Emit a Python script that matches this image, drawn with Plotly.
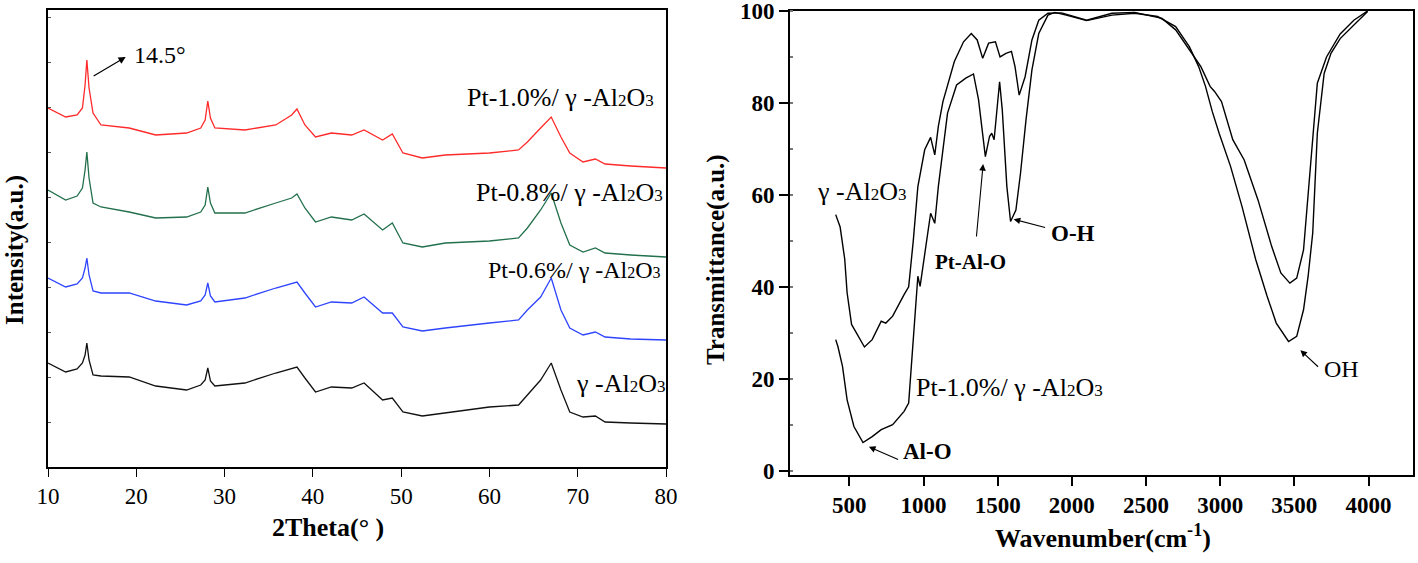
import plotly.graph_objects as go

# ---------------- XRD data (left panel) ----------------
theta = [10, 12, 13.3, 13.9, 14.2, 14.4, 14.65, 15.1, 16, 19.2, 22.2, 25.7, 27.3, 27.8, 28.1, 28.4,
         28.9, 32.3, 35.8, 37.6, 38.2, 39.1, 40.3, 42.1, 44.4, 45.8, 47.9, 49.0, 50.2, 52.4, 55,
         60, 63.3, 64.3, 65.8, 67.0, 68.1, 69.1, 70.6, 72.0, 73.1, 76, 80]
xrd_pt10 = [359, 350, 352, 359, 382, 407, 379, 354, 342, 339, 332, 334, 339, 347, 366, 349,
            339, 337, 342, 352, 358, 342, 330, 334, 332, 337, 327, 333, 314, 309, 312,
            314, 317, 325, 339, 350, 330, 314, 305, 308, 303, 301, 299]
xrd_pt08 = [277, 267, 271, 279, 297, 315, 289, 264, 260, 255, 249, 250, 255, 262, 280, 264,
            254, 254, 264, 269, 273, 259, 245, 250, 247, 253, 237, 244, 224, 220, 224,
            226, 229, 239, 257, 274, 244, 222, 215, 219, 214, 212, 210]
xrd_pt06 = [189, 180, 183, 189, 199, 209, 192, 176, 174, 174, 166, 162, 166, 172, 184, 171,
            165, 169, 179, 183, 185, 174, 160, 165, 164, 170, 154, 154, 140, 136, 139,
            144, 147, 157, 170, 189, 157, 139, 132, 135, 130, 128, 127]
xrd_al2o3 = [104, 95, 98, 104, 112, 124, 107, 92, 91, 90, 81, 77, 82, 87, 99, 86,
             81, 84, 94, 98, 100, 89, 75, 80, 79, 84, 67, 69, 55, 51, 54,
             60, 62, 72, 87, 104, 77, 55, 50, 51, 45, 44, 43]
xrd_names = ["Pt-1.0%/ γ -Al2O3", "Pt-0.8%/ γ -Al2O3", "Pt-0.6%/ γ -Al2O3", "γ -Al2O3"]
xrd_colors = ["#ff2a2a", "#22704c", "#2e44ff", "#111111"]

# ---------------- FTIR data (right panel) ----------------
wn_gamma = [408, 438, 469, 485, 515, 602, 654, 715, 746, 792, 869, 900, 931, 962, 1008, 1048,
            1076, 1100, 1131, 1208, 1270, 1322, 1362, 1399, 1439, 1485, 1516, 1556, 1593,
            1617, 1645, 1685, 1731, 1777, 1839, 1931, 2100, 2270, 2424, 2608, 2700, 2793,
            2870, 2932, 2962, 3009, 3085, 3162, 3255, 3347, 3409, 3470, 3516, 3562, 3609,
            3655, 3717, 3809, 3901, 3994]
t_gamma = [55.7, 53, 46, 38.7, 31.8, 26.9, 28.5, 32.5, 32.1, 33.6, 38.3, 40, 50, 61.8, 69.8, 72.5,
           68.7, 74.9, 80.3, 89, 93.3, 95.1, 93.7, 89.7, 93, 93.3, 90, 90.8, 91.2,
           87.9, 81.7, 85.7, 93.7, 98, 99.5, 99.6, 98, 99.5, 99.7, 98.4, 95.9, 91.5,
           87.9, 83.6, 82.5, 80.3, 72, 67.6, 58.9, 48.8, 43, 40.8, 41.9, 48, 66.2,
           84.3, 90, 95, 98, 100]
wn_pt = [408, 423, 454, 485, 531, 592, 654, 715, 792, 869, 900, 931, 962, 977, 1008, 1048,
         1076, 1100, 1162, 1223, 1285, 1337, 1371, 1417, 1445, 1460, 1476, 1494, 1513,
         1531, 1562, 1587, 1623, 1654, 1691, 1731, 1777, 1839, 1885, 1962, 2100, 2270,
         2424, 2578, 2700, 2793, 2855, 2901, 2947, 2993, 3070, 3147, 3239, 3316, 3378,
         3461, 3516, 3562, 3593, 3624, 3655, 3701, 3747, 3809, 3901, 3994]
t_pt = [28.5, 27, 22.7, 15.4, 9.6, 6.1, 7.4, 8.9, 10, 12.9, 14.7, 27.8, 42.3, 40.1, 47.3, 56,
        53.8, 61.8, 77.8, 83.9, 85.4, 86.3, 80.7, 68.3, 72.7, 73.4, 72, 78.5, 84.6,
        78.5, 61.8, 54.2, 56.7, 64.7, 76.3, 87.2, 95.1, 99.1, 99.7, 99.1, 97.9, 99.1,
        99.5, 98.8, 96.6, 92.2, 87.9, 83.6, 78.1, 73.4, 66.2, 57.5, 46, 38, 32.1,
        28.1, 29.2, 35, 42.3, 51.7, 73.4, 86.4, 90.8, 94, 97, 99.9]

xrd_ticks = [10, 20, 30, 40, 50, 60, 70, 80]
ftir_xticks = [500, 1000, 1500, 2000, 2500, 3000, 3500, 4000]
ftir_yticks = [0, 20, 40, 60, 80, 100]

FONT = "Liberation Serif"
W, H = 1418, 563


def chem(s, small=17):
    """Render Al2O3 with small digits."""
    return s.replace("Al2O3", "Al<span style='font-size:%dpx'>2</span>O<span style='font-size:%dpx'>3</span>" % (small, small))


fig = go.Figure()

for vals, name, col in zip([xrd_pt10, xrd_pt08, xrd_pt06, xrd_al2o3], xrd_names, xrd_colors):
    fig.add_trace(go.Scatter(x=theta, y=vals, mode="lines", name=name,
                             line=dict(color=col, width=1.3), xaxis="x", yaxis="y",
                             showlegend=False))

fig.add_trace(go.Scatter(x=wn_gamma, y=t_gamma, mode="lines", name="γ-Al2O3",
                         line=dict(color="black", width=1.4), xaxis="x2", yaxis="y2",
                         showlegend=False))
fig.add_trace(go.Scatter(x=wn_pt, y=t_pt, mode="lines", name="Pt-1.0%/γ-Al2O3",
                         line=dict(color="black", width=1.4), xaxis="x2", yaxis="y2",
                         showlegend=False))

axis_common = dict(showline=True, linecolor="black", linewidth=1.6, mirror=True,
                   showgrid=False, zeroline=False, automargin=False, ticklabeloverflow="allow")

fig.update_layout(
    width=W, height=H,
    margin=dict(l=0, r=0, t=0, b=0, pad=0, autoexpand=False),
    paper_bgcolor="white", plot_bgcolor="white",
    font=dict(family=FONT, color="black"),
    showlegend=False,
    xaxis=dict(domain=[48 / W, 666 / W], range=[10, 80], tickvals=xrd_ticks,
               ticks="outside", ticklen=8, tickwidth=1.4, tickcolor="black",
               tickfont=dict(family=FONT, size=23, color="black"), anchor="y",
               **axis_common),
    yaxis=dict(domain=[(H - 467) / H, (H - 10) / H], range=[0, 457],
               tick0=0, dtick=45, ticks="inside", ticklen=3, tickwidth=1, tickcolor="#555",
               showticklabels=False, anchor="x", **axis_common),
    xaxis2=dict(domain=[790 / W, 1413 / W], range=[100, 4300], tickvals=ftir_xticks,
                ticks="outside", ticklen=9, tickwidth=1.6, tickcolor="black",
                tickfont=dict(family=FONT, size=23, color="black", weight="bold"), anchor="y2",
                **axis_common),
    yaxis2=dict(domain=[(H - 475) / H, (H - 11) / H], range=[-0.95, 100], tickvals=ftir_yticks,
                ticks="outside", ticklen=9, tickwidth=1.6, tickcolor="black",
                tickfont=dict(family=FONT, size=23, color="black", weight="bold"), anchor="x2",
                minor=dict(dtick=10, tick0=0, ticks="inside", ticklen=3, tickcolor="#777",
                           showgrid=False),
                **axis_common),
)

ann = []
# left panel sample labels
ann.append(dict(x=68.1, y=369, xref="x", yref="y", text=chem(xrd_names[0]), showarrow=False,
                font=dict(size=26)))
ann.append(dict(x=69.1, y=275, xref="x", yref="y", text=chem(xrd_names[1]), showarrow=False,
                font=dict(size=26)))
ann.append(dict(x=69.6, y=197, xref="x", yref="y", text=chem(xrd_names[2], 16), showarrow=False,
                font=dict(size=24)))
ann.append(dict(x=74.8, y=84, xref="x", yref="y", text=chem(xrd_names[3]), showarrow=False,
                font=dict(size=26)))
ann.append(dict(x=22.7, y=412, xref="x", yref="y", text="14.5°", showarrow=False,
                font=dict(size=24)))
ann.append(dict(x=18.8, y=410, ax=15.0, ay=390, xref="x", yref="y", axref="x", ayref="y",
                text="", showarrow=True, arrowhead=2, arrowsize=1.2, arrowwidth=1.2,
                arrowcolor="black"))

# right panel labels
ann.append(dict(x=585, y=60.7, xref="x2", yref="y2", text=chem("γ -Al2O3"), showarrow=False,
                font=dict(size=26)))
ann.append(dict(x=1583, y=18.0, xref="x2", yref="y2", text=chem("Pt-1.0%/ γ -Al2O3"),
                showarrow=False, font=dict(size=26)))
ann.append(dict(x=1320, y=45.4, xref="x2", yref="y2", text="<b>Pt-Al-O</b>", showarrow=False,
                font=dict(size=21)))
ann.append(dict(x=1402, y=66.7, ax=1356, ay=50.6, xref="x2", yref="y2", axref="x2", ayref="y2",
                text="", showarrow=True, arrowhead=2, arrowsize=1.2, arrowwidth=1.1,
                arrowcolor="black"))
ann.append(dict(x=2008, y=51.7, xref="x2", yref="y2", text="<b>O-H</b>", showarrow=False,
                font=dict(size=23)))
ann.append(dict(x=1608, y=54.7, ax=1830, ay=52.8, xref="x2", yref="y2", axref="x2", ayref="y2",
                text="", showarrow=True, arrowhead=2, arrowsize=1.2, arrowwidth=1.1,
                arrowcolor="black"))
ann.append(dict(x=1030, y=4.1, xref="x2", yref="y2", text="<b>Al-O</b>", showarrow=False,
                font=dict(size=23)))
ann.append(dict(x=632, y=5.2, ax=839, ay=2.3, xref="x2", yref="y2", axref="x2", ayref="y2",
                text="", showarrow=True, arrowhead=2, arrowsize=1.2, arrowwidth=1.1,
                arrowcolor="black"))
ann.append(dict(x=3821, y=22.2, xref="x2", yref="y2", text="OH", showarrow=False,
                font=dict(size=24)))
ann.append(dict(x=3541, y=26.2, ax=3670, ay=22.3, xref="x2", yref="y2", axref="x2", ayref="y2",
                text="", showarrow=True, arrowhead=2, arrowsize=1.2, arrowwidth=1.1,
                arrowcolor="black"))

# axis titles (explicitly centred)
ann.append(dict(x=15 / W, y=(H - 250) / H, xref="paper", yref="paper", text="<b>Intensity(a.u.)</b>",
                textangle=-90, showarrow=False, font=dict(size=25)))
ann.append(dict(x=716 / W, y=(H - 260) / H, xref="paper", yref="paper",
                text="<b>Transmittance(a.u.)</b>", textangle=-90, showarrow=False,
                font=dict(size=25)))
ann.append(dict(x=328 / W, y=(H - 527) / H, xref="paper", yref="paper", text="<b>2Theta(° )</b>",
                showarrow=False, font=dict(size=26)))
ann.append(dict(x=1103 / W, y=(H - 536) / H, xref="paper", yref="paper",
                text="<b>Wavenumber(cm<sup>-1</sup>)</b>", showarrow=False, font=dict(size=26)))

for a in ann:
    a.setdefault("font", {})
    a["font"] = dict(family=FONT, color="black", **a["font"])
    a["xanchor"] = "center"
    a["yanchor"] = "middle"
fig.update_layout(annotations=ann)

fig.write_html("out.html", config={"displayModeBar": False},
               post_script="document.body.style.margin='0';document.body.style.overflow='hidden';")
